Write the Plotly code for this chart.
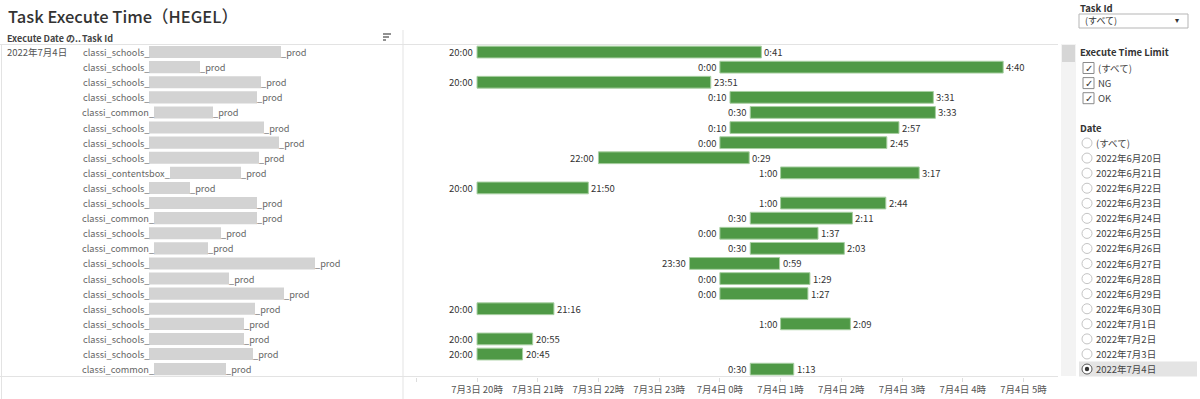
import plotly.graph_objects as go
from datetime import datetime

W, H = 1200, 399
FONT = "Noto Sans CJK JP, Noto Sans, sans-serif"

# ---------------- data ----------------
title = "Task Execute Time（HEGEL）"
exec_date = "2022年7月4日"
header_date = "Execute Date の.."
header_task = "Task Id"
task_prefixes = [
    "classi_schools_", "classi_schools_", "classi_schools_", "classi_schools_",
    "classi_common_", "classi_schools_", "classi_schools_", "classi_schools_",
    "classi_contentsbox_", "classi_schools_", "classi_schools_", "classi_common_",
    "classi_schools_", "classi_common_", "classi_schools_", "classi_schools_",
    "classi_schools_", "classi_schools_", "classi_schools_", "classi_schools_",
    "classi_schools_", "classi_common_",
]
task_suffix = "_prod"
start_times = ["20:00", "0:00", "20:00", "0:10", "0:30", "0:10", "0:00", "22:00",
               "1:00", "20:00", "1:00", "0:30", "0:00", "0:30", "23:30", "0:00",
               "0:00", "20:00", "1:00", "20:00", "20:00", "0:30"]
end_times = ["0:41", "4:40", "23:51", "3:31", "3:33", "2:57", "2:45", "0:29",
             "3:17", "21:50", "2:44", "2:11", "1:37", "2:03", "0:59", "1:29",
             "1:27", "21:16", "2:09", "20:55", "20:45", "1:13"]
tick_vals = ["2022-07-03 19:00", "2022-07-03 20:00", "2022-07-03 21:00",
             "2022-07-03 22:00", "2022-07-03 23:00", "2022-07-04 00:00",
             "2022-07-04 01:00", "2022-07-04 02:00", "2022-07-04 03:00",
             "2022-07-04 04:00", "2022-07-04 05:00"]
tick_text = ["", "7月3日 20時", "7月3日 21時", "7月3日 22時", "7月3日 23時",
             "7月4日 0時", "7月4日 1時", "7月4日 2時", "7月4日 3時",
             "7月4日 4時", "7月4日 5時"]
filter_task_title = "Task Id"
filter_task_value = "(すべて)"
limit_title = "Execute Time Limit"
limit_options = ["(すべて)", "NG", "OK"]
date_title = "Date"
date_options = ["(すべて)", "2022年6月20日", "2022年6月21日", "2022年6月22日",
                "2022年6月23日", "2022年6月24日", "2022年6月25日", "2022年6月26日",
                "2022年6月27日", "2022年6月28日", "2022年6月29日", "2022年6月30日",
                "2022年7月1日", "2022年7月2日", "2022年7月3日", "2022年7月4日"]
selected_date = "2022年7月4日"

# decoration: widths (px) of the grey blocks masking part of each task id
mask_widths = [132, 51, 112, 108, 59, 115, 130, 110, 71, 41, 108, 103, 72, 54,
               166, 80, 135, 106, 95, 95, 104, 72]
mask_start = {"classi_schools_": 149, "classi_common_": 154, "classi_contentsbox_": 170}

# ---------------- helpers ----------------
def to_dt(t):
    h, m = map(int, t.split(":"))
    return datetime(2022, 7, 3 if h >= 12 else 4, h, m)

def fx(x):
    return x / W

def fy(y):
    return 1 - y / H

starts = [to_dt(s) for s in start_times]
ends = [to_dt(e) for e in end_times]
rows = list(range(len(start_times)))

# plot area in pixels
PX0, PX1 = 403, 1058
PY0, PY1 = 44.5, 376.7

fig = go.Figure()
fig.add_trace(go.Bar(
    orientation="h",
    y=rows,
    base=[s.strftime("%Y-%m-%d %H:%M") for s in starts],
    x=[(e - s).total_seconds() * 1000 for s, e in zip(starts, ends)],
    width=0.78,
    marker=dict(color="#4f9946", line=dict(color="#a8cfa2", width=1)),
    hoverinfo="skip",
    showlegend=False,
))

ann = []
shapes = []

def text(x, y, s, size=9.5, color="#555", anchor="left", weight="normal",
         family=FONT, xref="paper", yref="paper", xshift=0):
    ann.append(dict(x=x, y=y, xref=xref, yref=yref, text=s, showarrow=False,
                    xanchor=anchor, yanchor="middle", xshift=xshift,
                    font=dict(family=family, size=size, color=color, weight=weight)))

def rect(x0, y0, x1, y1, fill=None, line=None, lw=1, xref="paper", yref="paper"):
    shapes.append(dict(type="rect", xref=xref, yref=yref, x0=x0, y0=y0, x1=x1, y1=y1,
                       fillcolor=fill or "rgba(0,0,0,0)",
                       line=dict(color=line or "rgba(0,0,0,0)", width=lw if line else 0),
                       layer="below"))

def hline(x0, x1, y, color="#e3e3e3", w=1):
    shapes.append(dict(type="line", xref="paper", yref="paper", x0=fx(x0), x1=fx(x1),
                       y0=fy(y), y1=fy(y), line=dict(color=color, width=w)))

def vline(x, y0, y1, color="#e3e3e3", w=1):
    shapes.append(dict(type="line", xref="paper", yref="paper", x0=fx(x), x1=fx(x),
                       y0=fy(y0), y1=fy(y1), line=dict(color=color, width=w)))

# bar labels
for r, s, e, st, et in zip(rows, starts, ends, start_times, end_times):
    text(s.strftime("%Y-%m-%d %H:%M"), r, st, size=9.5, color="#333", anchor="right",
         xref="x", yref="y", xshift=-2)
    text(e.strftime("%Y-%m-%d %H:%M"), r, et, size=9.5, color="#333", anchor="left",
         xref="x", yref="y", xshift=1)

# title and headers
text(fx(6), fy(16), title, size=16.5, color="#333", weight=500)
text(fx(5), fy(38), header_date, size=9, color="#444", weight=600)
text(fx(80), fy(38), header_task, size=9, color="#444", weight=600)
# sort icon
for yy, ww in [(34, 8), (37, 6), (40, 3)]:
    hline(383, 383 + ww, yy, color="#555", w=1.3)

# table text
text(fx(5), 0, exec_date, size=9.5, color="#555", yref="y")
for r, p, mw in zip(rows, task_prefixes, mask_widths):
    x0 = mask_start[p]
    text(fx(x0), r, p, size=9.2, color="#666", anchor="right", yref="y", xshift=2)
    rect(fx(x0), r - 0.4, fx(x0 + mw), r + 0.4, fill="#d3d3d3", yref="y")
    text(fx(x0 + mw), r, task_suffix, size=9.2, color="#666", anchor="left", yref="y",
         xshift=-2)

# grid / borders
hline(0, 1058, 44.5)
hline(0, 1058, 376.5)
vline(403, 30, 399)
vline(1.5, 44, 399)

# scrollbar
rect(fx(1061), fy(376), fx(1076), fy(44), fill="#f3f3f3")
rect(fx(1062), fy(62), fx(1075), fy(45), fill="#d6d6d6")

# right panel: Task Id filter
text(fx(1078), fy(8), filter_task_title, size=9.5, color="#333", weight=600)
rect(fx(1079), fy(28), fx(1188), fy(14), fill="#ffffff", line="#b5b5b5")
text(fx(1083), fy(21), filter_task_value, size=9, color="#333")
text(fx(1177), fy(21), "▾", size=8, color="#333", anchor="center", family="DejaVu Sans")

# Execute Time Limit
text(fx(1078), fy(52), limit_title, size=9.5, color="#333", weight=600)
for i, opt in enumerate(limit_options):
    yy = 68 + 15.1 * i
    rect(fx(1083), fy(yy + 5.5), fx(1094), fy(yy - 5.5), fill="#ffffff", line="#8a8a8a")
    text(fx(1088.5), fy(yy), "✓", size=10, color="#333", anchor="center", family="DejaVu Sans")
    text(fx(1096), fy(yy), opt, size=9.5, color="#444")

# Date radio list
text(fx(1078), fy(128), date_title, size=9.5, color="#333", weight=600)
for i, opt in enumerate(date_options):
    yy = 143 + 15.07 * i
    sel = opt == selected_date
    if sel:
        rect(fx(1079), fy(yy + 7.5), fx(1197), fy(yy - 7.5), fill="#e4e4e4")
    shapes.append(dict(type="circle", xref="paper", yref="paper",
                       x0=fx(1082), x1=fx(1092), y0=fy(yy + 5), y1=fy(yy - 5),
                       fillcolor="#ffffff",
                       line=dict(color="#555" if sel else "#c4c4c4", width=1)))
    if sel:
        shapes.append(dict(type="circle", xref="paper", yref="paper",
                           x0=fx(1084.8), x1=fx(1089.2), y0=fy(yy + 2.2), y1=fy(yy - 2.2),
                           fillcolor="#333", line=dict(color="#333", width=0)))
    text(fx(1094), fy(yy), opt, size=9.5, color="#444")

fig.update_layout(
    width=W, height=H,
    margin=dict(l=0, r=0, t=0, b=0),
    paper_bgcolor="#ffffff", plot_bgcolor="#ffffff",
    font=dict(family=FONT, size=9.5, color="#555"),
    xaxis=dict(
        type="date", domain=[fx(PX0), fx(PX1)],
        range=["2022-07-03 18:46:50", "2022-07-04 05:34:10"],
        tickvals=tick_vals, ticktext=tick_text,
        ticks="outside", ticklen=4, tickcolor="#dddddd", tickwidth=1,
        showgrid=False, zeroline=False, showline=False,
        tickfont=dict(family=FONT, size=9.5, color="#555"),
        fixedrange=True,
    ),
    yaxis=dict(
        domain=[fy(PY1), fy(PY0)], range=[len(rows) - 0.5, -0.5],
        showticklabels=False, showgrid=False, zeroline=False, showline=False,
        ticks="", fixedrange=True,
    ),
    annotations=ann,
    shapes=shapes,
    bargap=0.2,
)

fig.write_html(
    "out.html",
    config={"displayModeBar": False},
    post_script="document.body.style.margin='0';document.body.style.overflow='hidden';",
)
